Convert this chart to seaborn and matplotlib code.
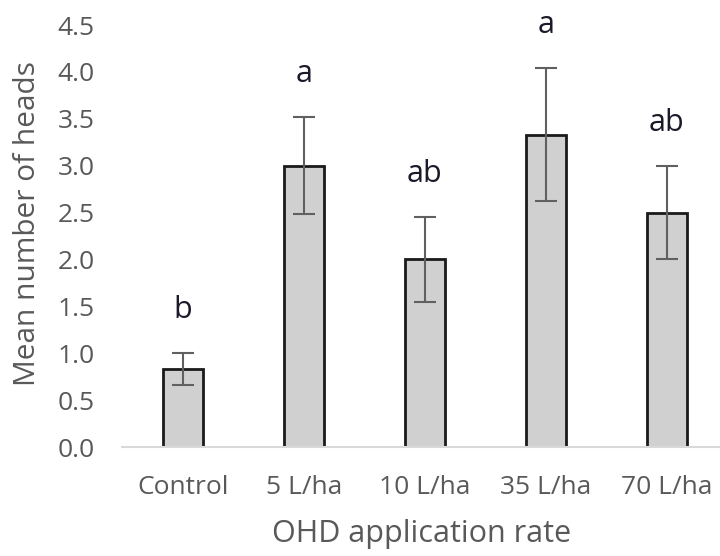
import matplotlib
matplotlib.use("Agg")
import matplotlib.pyplot as plt
import seaborn as sns
import pandas as pd

rates = ["Control", "5 L/ha", "10 L/ha", "35 L/ha", "70 L/ha"]
mean_heads = [0.83, 3.00, 2.00, 3.33, 2.50]
se_heads = [0.17, 0.52, 0.45, 0.71, 0.50]
letters = ["b", "a", "ab", "a", "ab"]

df = pd.DataFrame({"rate": rates, "heads": mean_heads, "se": se_heads})

sns.set_style("white")
plt.rcParams["font.family"] = ["Open Sans", "DejaVu Sans"]

fig = plt.figure(figsize=(7.2, 5.56), dpi=100)
ax = fig.add_axes([0.170, 0.196, 0.830, 0.759])

sns.barplot(data=df, x="rate", y="heads", color="#d0d0d0", width=0.33,
            edgecolor="#1a1a1a", linewidth=2, saturation=1, errorbar=None, ax=ax)
ax.errorbar(df["rate"], df["heads"], yerr=df["se"], fmt="none",
            ecolor="#606060", elinewidth=1.5, capsize=8, capthick=1.5)

# significance letters sit a little above each error bar
for i, (m, s, lab) in enumerate(zip(mean_heads, se_heads, letters)):
    ax.text(i, m + s + 0.46, lab, ha="center", va="center",
            fontsize=22, color="#1a1a2a")

ax.set_ylim(0, 4.5)
ax.set_xlim(-0.5, 4.44)
ax.set_yticks([0, 0.5, 1.0, 1.5, 2.0, 2.5, 3.0, 3.5, 4.0, 4.5])
ax.set_yticklabels([f"{v:.1f}" for v in ax.get_yticks()])
ax.tick_params(axis="both", length=0, labelsize=19, colors="#595959")
ax.tick_params(axis="y", pad=20)
ax.tick_params(axis="x", pad=20)

for side in ["top", "right", "left"]:
    ax.spines[side].set_visible(False)
ax.spines["bottom"].set_color("#d9d9d9")
ax.spines["bottom"].set_linewidth(1.5)

ax.set_xlabel("OHD application rate", fontsize=22, color="#595959", labelpad=14)
ax.set_ylabel("Mean number of heads", fontsize=21.5, color="#595959", labelpad=8)
ax.yaxis.set_label_coords(-0.135, 0.53)

fig.savefig("out.png", dpi=100)
